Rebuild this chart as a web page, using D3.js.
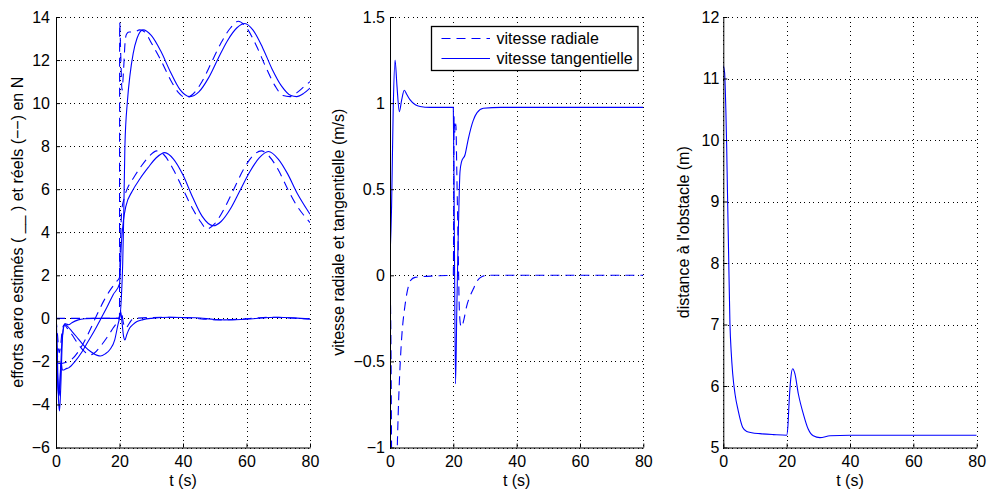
<!DOCTYPE html>
<html><head><meta charset="utf-8">
<script src="https://cdn.jsdelivr.net/npm/d3@7"></script>
<style>
body{margin:0;background:#fff}
svg text{font-family:"Liberation Sans",Arial,Helvetica,sans-serif;fill:#000}
</style></head>
<body><svg id="c" width="991" height="492"></svg>
<script>
// ---------- data ----------
const xTicks = [0, 20, 40, 60, 80];
const yTicks1 = [-6, -4, -2, 0, 2, 4, 6, 8, 10, 12, 14];
const yTicks2 = [-1, -0.5, 0, 0.5, 1, 1.5];
const yTicks3 = [5, 6, 7, 8, 9, 10, 11, 12];

const yLabel1 = "efforts aero estimés ( __ ) et réels (−−) en N";
const yLabel2 = "vitesse radiale et tangentielle (m/s)";
const yLabel3 = "distance à l'obstacle (m)";
const xLabel = "t (s)";
const legendNames = ["vitesse radiale", "vitesse tangentielle"];

// panel 1: estimated (solid) and real (dashed) aero forces [t, N]
const forceTopEst = [[0,0.4],[0.4,-1.5],[0.8,-3.8],[1.1,-4.3],[1.5,-3.2],[2,-1.0],[2.5,-0.35],[3,-0.25],[4,-0.3],[5,-0.2],[7,-0.07],[9,-0.02],[12,0],[20,0],[20.6,1],[21,2.5],[21.3,4.5],[21.7,8.0],[22.5,10.1],[23.3,11.3],[24.3,12.3],[25.5,13.0],[27.4,13.4],[30,13.15],[33,12.42],[36,11.46],[39,10.64],[42.2,10.3],[45,10.52],[48,11.16],[51,12.05],[54,12.9],[57,13.5],[59.5,13.7],[62,13.4],[65,12.6],[68,11.6],[71,10.8],[74,10.35],[75.8,10.3],[78,10.45],[80,10.7]];
const forceTopReal = [[0,0],[20,0],[20.05,13.75],[20.4,12.2],[20.8,10.6],[21.3,11.6],[21.8,12.9],[22.2,13.2],[23,13.3],[24.5,13.3],[26.4,13.4],[28,13.3],[30,12.8],[33,12.0],[36,11.1],[38.5,10.5],[41,10.25],[43,10.4],[46,11.0],[49,11.9],[52,12.8],[55,13.5],[57.4,13.8],[60,13.5],[63,12.7],[66,11.7],[69,10.8],[71.5,10.35],[73.7,10.3],[76,10.5],[78,10.75],[80,11.0]];
const forceMidEst = [[0,0],[0.4,-2.5],[0.8,-3.6],[1.2,-3.0],[1.6,-2.0],[2.0,-2.4],[2.5,-2.4],[3,-2.35],[4,-2.3],[6,-2.0],[8,-1.6],[10,-1.1],[12,-0.6],[14,-0.05],[16,0.5],[18,1.1],[20,1.6],[20.6,3.5],[21.2,4.5],[22,5.2],[24,5.9],[26.5,6.5],[29,7.0],[31.5,7.45],[34.3,7.7],[37,7.4],[40,6.66],[43,5.64],[46,4.75],[49.6,4.3],[52,4.5],[55,5.1],[58,5.95],[61,6.8],[64,7.45],[66.9,7.75],[70,7.4],[73,6.7],[76,5.8],[78,5.3],[80,4.84]];
const forceMidReal = [[0,0],[0.3,-1.2],[0.7,-2.1],[1.5,-2.1],[3,-2.05],[5,-1.9],[7,-1.55],[9,-1.05],[11,-0.45],[13,0.2],[15,0.8],[17,1.3],[19,1.7],[20,1.9],[20.3,3.5],[20.7,5.0],[21.5,5.6],[23,6.2],[24.3,6.5],[27,7.1],[29.5,7.55],[31.7,7.78],[34,7.6],[37,6.9],[40,6.0],[43,5.1],[45.5,4.5],[47.5,4.15],[50,4.4],[53,5.1],[56,6.0],[59,6.9],[62,7.55],[64.7,7.78],[67,7.55],[70,6.9],[73,6.0],[76,5.2],[78,4.8],[80,4.45]];
const forceBotEst = [[0,0],[0.3,-1.8],[0.7,-3.2],[1.0,-3.6],[1.4,-2.6],[1.8,-1.2],[2.3,-0.5],[2.8,-0.25],[3.5,-0.35],[5,-0.6],[7,-0.95],[9,-1.3],[11,-1.55],[13,-1.72],[14,-1.75],[15.5,-1.65],[17,-1.45],[18.5,-1.0],[19.5,-0.3],[20,0.0],[20.4,0.3],[20.8,-0.2],[21.3,-0.85],[21.7,-1.0],[22.3,-0.75],[23.2,-0.45],[24.3,-0.28],[25.5,-0.15],[27.4,-0.06],[30,0],[36,0.05],[44,0.03],[50,-0.05],[53,-0.07],[60,-0.04],[66,0.03],[70,0.05],[75,0.02],[80,-0.03]];
const forceBotReal = [[0,0],[0.5,-0.8],[1,-1.6],[1.5,-1.2],[2,-0.5],[2.6,-0.3],[3.5,-0.45],[5,-0.75],[7,-1.2],[9,-1.55],[10.5,-1.7],[12,-1.62],[14,-1.3],[16,-0.9],[18,-0.45],[19.5,-0.1],[20,0.1],[20.5,0.38],[21.2,-0.2],[22,-0.45],[23,-0.25],[24,-0.05],[25,0],[34,0.05],[42,0.02],[48,-0.05],[51,-0.07],[58,-0.04],[64,0.03],[68,0.05],[73,0.02],[78,-0.02],[80,-0.03]];

// panel 2: speeds [t, m/s]
const speedRadial = [[0,0],[0.3,-0.4],[0.6,-1.3],[1.2,-1.8],[2.0,-1.3],[2.3,-1.0],[2.6,-0.8],[3.2,-0.52],[3.7,-0.36],[4.7,-0.18],[5.8,-0.065],[6.5,-0.03],[7.9,-0.012],[10,-0.008],[14,-0.004],[18,-0.001],[20,0],[20.25,0.92],[20.5,0.83],[20.8,0.88],[21.1,0.6],[21.5,0.2],[21.9,-0.2],[22.3,-0.29],[22.6,-0.30],[23.3,-0.26],[24.2,-0.18],[25.3,-0.12],[26.3,-0.08],[27.3,-0.04],[28.4,-0.015],[30.6,0],[80,0]];
const speedTangential = [[0,0.1],[0.5,0.4],[1,0.95],[1.6,1.25],[2.2,1.1],[2.95,0.95],[3.7,1.02],[4.5,1.075],[5.3,1.05],[6.3,1.02],[8,0.99],[9.5,0.98],[12.6,0.975],[20,0.975],[20.3,0.3],[20.7,-0.63],[21.1,-0.2],[21.4,0.1],[21.7,0.35],[22.1,0.6],[22.6,0.66],[23.7,0.70],[24.7,0.79],[26.3,0.9],[27.5,0.945],[29.5,0.97],[35,0.975],[80,0.975]];

// panel 3: distance to obstacle [t, m]
const distance = [[0,11.21],[0.4,11.1],[0.8,10.5],[1.05,9.94],[1.3,9.2],[1.6,8.37],[2.1,7.01],[2.5,6.55],[2.97,6.2],[3.7,5.87],[4.7,5.6],[6.1,5.33],[7.4,5.26],[9,5.24],[11.6,5.225],[15.8,5.21],[20,5.2],[20.4,5.35],[20.8,5.76],[21.3,6.12],[21.9,6.28],[22.6,6.2],[23.7,5.87],[25.3,5.54],[26.8,5.30],[28.4,5.19],[30.5,5.16],[33.7,5.19],[40,5.2],[80,5.2]];

// ---------- drawing ----------
const svg = d3.select("#c");
const TOP = 17, BOT = 447.5;
const BLUE = "#0000ff";
const DASH = "9,6";
const FS = 16;

function fmt(d){ return d < 0 ? "\u2212" + Math.abs(d) : String(d); }

function panel(cfg){
  const x = d3.scaleLinear().domain([0, 80]).range([cfg.left, cfg.right]);
  const y = d3.scaleLinear().domain(cfg.yDomain).range([BOT, TOP]);
  const g = svg.append("g");
  const id = "clip" + cfg.key;
  svg.append("clipPath").attr("id", id).append("rect")
    .attr("x", cfg.left).attr("y", TOP).attr("width", cfg.right - cfg.left).attr("height", BOT - TOP);

  // grid
  const grid = g.append("g").attr("stroke", "#000").attr("stroke-width", 1)
    .attr("stroke-dasharray", "1,3.5").attr("shape-rendering", "crispEdges");
  cfg.yTicks.forEach(v => grid.append("line")
    .attr("x1", cfg.left).attr("x2", cfg.right).attr("y1", Math.round(y(v)) + 0.5).attr("y2", Math.round(y(v)) + 0.5));
  xTicks.forEach(v => grid.append("line")
    .attr("y1", TOP).attr("y2", BOT).attr("x1", Math.round(x(v)) + 0.5).attr("x2", Math.round(x(v)) + 0.5));

  // curves
  const line = d3.line().x(d => x(d[0])).y(d => y(d[1])).curve(d3.curveMonotoneX);
  const cg = g.append("g").attr("clip-path", `url(#${id})`);
  cfg.series.forEach(s => cg.append("path").attr("d", line(s.data))
    .attr("fill", "none").attr("stroke", BLUE).attr("stroke-width", 1.1)
    .attr("stroke-dasharray", s.dashed ? DASH : null));

  // axes
  const ax = g.append("g").attr("transform", `translate(0,${BOT})`)
    .call(d3.axisBottom(x).tickValues(xTicks).tickSize(-4).tickSizeOuter(0).tickPadding(8).tickFormat(fmt));
  const ay = g.append("g").attr("transform", `translate(${cfg.left},0)`)
    .call(d3.axisLeft(y).tickValues(cfg.yTicks).tickSize(-4).tickSizeOuter(0).tickPadding(cfg.ypad).tickFormat(fmt));
  [ax, ay].forEach(a => {
    a.selectAll("text").attr("font-size", FS);
    a.selectAll("line,path").attr("stroke", "#000");
    a.attr("font-family", null).attr("font-size", null);
  });

  // labels
  g.append("text").attr("x", (cfg.left + cfg.right) / 2).attr("y", 486)
    .attr("text-anchor", "middle").attr("font-size", FS).text(xLabel);
  g.append("text").attr("transform", `translate(${cfg.ylx},${(TOP + BOT) / 2}) rotate(-90)`)
    .attr("text-anchor", "middle").attr("font-size", FS).text(cfg.yLabel);
  return {x, y, g};
}

panel({key: 1, left: 56, right: 310, yDomain: [-6, 14], yTicks: yTicks1, yLabel: yLabel1, ylx: 23, ypad: 6,
  series: [
    {data: forceTopReal, dashed: true}, {data: forceMidReal, dashed: true}, {data: forceBotReal, dashed: true},
    {data: forceTopEst}, {data: forceMidEst}, {data: forceBotEst}
  ]});

panel({key: 2, left: 390, right: 643.3, yDomain: [-1, 1.5], yTicks: yTicks2, yLabel: yLabel2, ylx: 344, ypad: 5,
  series: [{data: speedRadial, dashed: true}, {data: speedTangential}]});

panel({key: 3, left: 723.3, right: 976.7, yDomain: [5, 12], yTicks: yTicks3, yLabel: yLabel3, ylx: 689, ypad: 4,
  series: [{data: distance}]});

// legend (panel 2)
const lg = svg.append("g");
lg.append("rect").attr("x", 431.5).attr("y", 26.5).attr("width", 206.5).attr("height", 44)
  .attr("fill", "#fff").attr("stroke", "#000").attr("stroke-width", 1.3);
legendNames.forEach((name, i) => {
  const yy = 38.5 + i * 20;
  lg.append("line").attr("x1", 441.5).attr("x2", 490).attr("y1", yy).attr("y2", yy)
    .attr("stroke", BLUE).attr("stroke-width", 1.1).attr("stroke-dasharray", i === 0 ? DASH : null);
  lg.append("text").attr("x", 496.5).attr("y", yy + 5.5).attr("font-size", FS).text(name);
});
</script></body></html>
